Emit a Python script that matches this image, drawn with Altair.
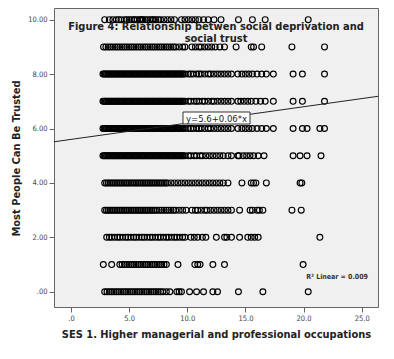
import altair as alt
import pandas as pd

# ---- data ----
trust_levels = [10, 9, 8, 7, 6, 5, 4, 3, 2, 1, 0]

# solid black run seen on rows 5 to 8 (SES about 2.8 to 9.8)
solid_run = [2.75, 2.85, 2.95, 3.05, 3.15, 3.25, 3.35, 3.45, 3.55, 3.65, 3.75, 3.85, 3.95,
             4.05, 4.15, 4.25, 4.35, 4.45, 4.55, 4.65, 4.75, 4.85, 4.95, 5.05, 5.15, 5.25,
             5.35, 5.45, 5.55, 5.65, 5.75, 5.85, 5.95, 6.05, 6.15, 6.25, 6.35, 6.45, 6.55,
             6.65, 6.75, 6.85, 6.95, 7.05, 7.15, 7.25, 7.35, 7.45, 7.55, 7.65, 7.75, 7.85,
             7.95, 8.05, 8.15, 8.25, 8.35, 8.45, 8.55, 8.65, 8.75, 8.85, 8.95, 9.05, 9.15,
             9.25, 9.35, 9.45, 9.55, 9.65, 9.8]

ses_at_10 = [2.9, 3.3, 3.6, 3.9, 4.1, 4.3, 4.6, 4.8, 5.0, 5.2, 5.4, 5.5, 5.7, 5.9, 6.0, 6.1, 6.2,
             6.4, 6.6, 6.8, 7.0, 7.1, 7.3, 7.5, 7.7, 8.0, 8.3, 8.6, 8.9, 9.5, 9.8, 10.1, 10.4,
             10.7, 11.0, 11.4, 11.8, 12.3, 12.9, 14.4, 15.6, 16.7, 20.4]
ses_at_9 = [2.8, 3.0, 3.2, 3.4, 3.6, 3.8, 4.0, 4.2, 4.4, 4.6, 4.8, 5.0, 5.2, 5.4, 5.6, 5.8, 6.0,
            6.2, 6.4, 6.6, 6.8, 7.0, 7.2, 7.4, 7.6, 7.8, 8.0, 8.2, 8.4, 8.6, 8.8, 9.0, 9.3, 9.6,
            9.8, 10.4, 10.7, 11.0, 11.2, 11.5, 11.8, 12.1, 12.4, 12.8, 13.2, 14.2, 15.5, 15.7,
            16.4, 19.0, 21.8]
ses_at_8 = solid_run + [10.1, 10.3, 10.5, 10.8, 11.0, 11.2, 11.5, 11.8, 12.0, 12.3, 12.6,
                        12.9, 13.2, 13.5, 13.8, 14.35, 14.7, 15.0, 15.3, 15.6, 16.0, 16.4,
                        16.8, 17.4, 19.1, 19.9, 21.8]
ses_at_7 = solid_run + [10.1, 10.3, 10.6, 10.8, 11.0, 11.3, 11.5, 11.8, 12.1, 12.3, 12.6,
                        12.9, 13.2, 13.5, 13.8, 14.35, 14.6, 14.9, 15.2, 15.5, 15.9, 16.3,
                        16.7, 17.4, 19.1, 19.9, 21.8]
ses_at_6 = solid_run + [10.1, 10.3, 10.5, 10.8, 11.0, 11.2, 11.5, 11.8, 12.0, 12.3, 12.6,
                        12.9, 13.2, 13.5, 13.8, 14.35, 14.7, 15.0, 15.3, 15.6, 16.0, 16.4,
                        16.8, 17.4, 19.1, 19.9, 20.3, 21.4, 21.8]
ses_at_5 = solid_run + [10.1, 10.3, 10.6, 10.8, 11.1, 11.3, 11.6, 11.9, 12.2, 12.5, 12.8,
                        13.1, 13.5, 13.8, 14.35, 14.45, 14.8, 15.1, 15.4, 15.7, 16.1, 16.6,
                        19.1, 19.7, 20.3, 21.5]
ses_at_4 = [2.9, 3.05, 3.2, 3.35, 3.5, 3.65, 3.8, 3.95, 4.1, 4.25, 4.4, 4.55, 4.7, 4.85, 5.0,
            5.15, 5.3, 5.45, 5.6, 5.75, 5.9, 6.05, 6.2, 6.35, 6.5, 6.65, 6.8, 6.95, 7.1, 7.25,
            7.4, 7.55, 7.7, 7.85, 8.0, 8.15, 8.3, 8.6, 8.9, 9.2, 9.5, 9.8, 10.1, 10.4, 10.7,
            11.0, 11.3, 11.6, 11.9, 12.2, 12.5, 12.8, 13.1, 13.5, 14.7, 15.5, 15.7, 15.9,
            16.8, 19.7, 19.85]
ses_at_3 = [2.9, 3.05, 3.2, 3.35, 3.5, 3.65, 3.8, 3.95, 4.1, 4.25, 4.4, 4.55, 4.7, 4.85, 5.0,
            5.15, 5.3, 5.45, 5.6, 5.75, 5.9, 6.05, 6.2, 6.35, 6.5, 6.65, 6.8, 6.95, 7.1, 7.25,
            7.4, 7.6, 7.8, 8.0, 8.2, 8.4, 8.6, 8.8, 9.0, 9.3, 9.6, 9.9, 10.4, 10.7, 10.9, 11.2,
            11.5, 11.7, 12.0, 12.3, 12.6, 12.9, 13.2, 13.5, 13.8, 14.5, 15.4, 15.6, 16.0, 16.2,
            16.5, 19.0, 19.8]
ses_at_2 = [3.07, 3.3, 3.5, 3.75, 4.0, 4.2, 4.45, 4.7, 4.9, 5.15, 5.4, 5.6, 5.85, 6.1, 6.3, 6.55,
            6.8, 7.0, 7.25, 7.5, 7.7, 7.95, 8.2, 8.4, 8.65, 8.9, 9.1, 9.35, 9.6, 9.8, 10.3, 10.6,
            10.9, 11.3, 11.6, 12.5, 13.2, 13.4, 13.8, 14.5, 15.2, 15.5, 15.8, 16.1, 21.4]
ses_at_1 = [2.78, 3.5, 4.2, 4.4, 4.6, 4.8, 5.0, 5.2, 5.4, 5.6, 5.8, 6.0, 6.2, 6.4, 6.6, 6.8, 7.0,
            7.2, 7.4, 7.6, 7.8, 8.0, 8.2, 9.2, 10.65, 10.9, 11.1, 12.2, 13.2, 19.96]
ses_at_0 = [2.9, 3.1, 3.3, 3.5, 3.7, 3.9, 4.1, 4.3, 4.5, 4.7, 4.9, 5.1, 5.3, 5.5, 5.7, 5.9, 6.1,
            6.3, 6.5, 6.7, 6.9, 7.1, 7.3, 7.5, 7.7, 7.9, 8.2, 8.5, 9.1, 9.3, 9.5, 10.2, 10.8,
            11.4, 12.2, 12.6, 14.4, 16.5, 20.4]

ses_rows = [ses_at_10, ses_at_9, ses_at_8, ses_at_7, ses_at_6, ses_at_5, ses_at_4, ses_at_3,
            ses_at_2, ses_at_1, ses_at_0]

fit_intercept = [5.6]
fit_slope = [0.06]
r_squared = ["0.009"]

x_ticks = [0, 5, 10, 15, 20, 25]
y_ticks = [0, 2, 4, 6, 8, 10]
x_domain = [-1.46, 26.4]
y_domain = [-0.56, 10.43]

title_lines = ["Figure 4: Relationship betwen social deprivation and", "social trust"]
x_title = "SES 1. Higher managerial and professional occupations"
y_title = "Most People Can Be Trusted"

# ---- tables ----
points = pd.DataFrame(
    [{"ses": x, "trust": y} for y, xs in zip(trust_levels, ses_rows) for x in xs]
)
fit = pd.DataFrame({"ses": x_domain})
fit["trust"] = fit_intercept[0] + fit_slope[0] * fit["ses"]

FONT = "DejaVu Sans Condensed"

xs = alt.Scale(domain=x_domain, nice=False, zero=False)
ys = alt.Scale(domain=y_domain, nice=False, zero=False)

x_enc = alt.X("ses:Q", scale=xs, axis=alt.Axis(
    values=x_ticks, title=x_title,
    labelExpr="datum.value == 0 ? '.0' : format(datum.value, '.1f')",
    titleY=21, titleBaseline="top"))
y_enc = alt.Y("trust:Q", scale=ys, axis=alt.Axis(
    values=y_ticks, title=y_title,
    labelExpr="datum.value == 0 ? '.00' : format(datum.value, '.2f')",
    titleX=-33, titleY=150))

dots = alt.Chart(points).mark_point(
    shape="circle", filled=False, size=34, color="#000", strokeWidth=1.15, opacity=1
).encode(x=x_enc, y=y_enc)

line = alt.Chart(fit).mark_line(color="#222", strokeWidth=1, clip=True).encode(
    x=alt.X("ses:Q", scale=xs), y=alt.Y("trust:Q", scale=ys))

eq_label = f"y={fit_intercept[0]}+{fit_slope[0]}*x"
box = alt.Chart(pd.DataFrame({"t": [eq_label]})).mark_rect(
    fill="white", stroke="#333", strokeWidth=1
).encode(x=alt.value(129), x2=alt.value(196), y=alt.value(104), y2=alt.value(116))
box_text = alt.Chart(pd.DataFrame({"t": [eq_label]})).mark_text(
    font="DejaVu Sans", fontSize=8.5, color="#222", align="center", baseline="middle"
).encode(text="t:N", x=alt.value(162.5), y=alt.value(110.5))

title = alt.Chart(pd.DataFrame({"t": [0]})).mark_text(
    text=title_lines, font=FONT, fontSize=11, fontWeight="bold", color="#222",
    align="center", baseline="top", lineHeight=12
).encode(x=alt.value(162), y=alt.value(13))

r2 = alt.Chart(pd.DataFrame({"t": [f"R\u00b2 Linear = {r_squared[0]}"]})).mark_text(
    font=FONT, fontSize=7, fontWeight="bold", color="#333", align="right", baseline="middle"
).encode(text="t:N", x=alt.value(314), y=alt.value(269))

chart = alt.layer(dots, line, box, box_text, title, r2).properties(
    width=324, height=299, autosize="none",
    padding={"left": 46, "top": 0, "right": 8, "bottom": 36},
    background="white",
).configure_view(
    fill="#f0f0f0", stroke="#666", strokeWidth=1
).configure_axis(
    domain=False, grid=False, ticks=True, tickSize=5, tickColor="#666",
    labelFont=FONT, labelFontSize=7.5, labelColor="#444",
    titleFont=FONT, titleFontSize=11, titleFontWeight="bold", titleColor="#222",
)

chart.save("out.html", embed_options={"renderer": "svg", "actions": False})
